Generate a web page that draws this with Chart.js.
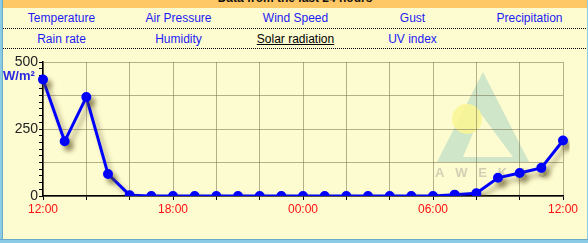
<!DOCTYPE html>
<html>
<head>
<meta charset="utf-8">
<script src="https://cdn.jsdelivr.net/npm/chart.js@4/dist/chart.umd.min.js"></script>
<style>
  html, body { margin: 0; padding: 0; }
  body {
    width: 588px; height: 243px; overflow: hidden; position: relative;
    background: #fdfbd0; font-family: Arial, "Liberation Sans", sans-serif;
  }
  #frameL { position: absolute; left: 0; top: 0; width: 2px; height: 243px; background: #8ccbe6; border-right: 1px solid #6aa9c8; }
  #frameR { position: absolute; right: 0; top: 0; width: 1px; height: 243px; background: #8ccbe6; }
  #frameB { position: absolute; left: 0; top: 239px; width: 588px; height: 4px; background: #8ccbe6; border-top: 1px solid #6aa9c8; }
  #head {
    position: absolute; left: 3px; top: 0; width: 584px; height: 8px; background: #fdc865;
    overflow: hidden;
  }
  #head span {
    position: absolute; left: 0; width: 584px; top: -9px; text-align: center;
    font-weight: bold; font-size: 12px; line-height: 14px; color: #111;
  }
  .row { position: absolute; left: 3px; width: 585px; height: 20px; border-bottom: 1px dotted #000; }
  .row a { position: absolute; width: 117px; text-align: center; font-size: 12px; line-height: 14px; color: #1c1cf4; text-decoration: none; }
  .row a.on { color: #000; text-decoration: underline; }
  #r1 { top: 8px; }
  #r2 { top: 28px; }
  #unit { position: absolute; left: 3px; top: 68px; font-size: 13px; font-weight: bold; color: #2a2ae0; }
  #wrap { position: absolute; left: 3px; top: 52px; width: 582px; height: 180px; }
</style>
</head>
<body>
<div id="head"><span>Data from the last 24 hours</span></div>
<div class="row" id="r1">
  <a style="left:0;top:3px">Temperature</a>
  <a style="left:117px;top:3px">Air Pressure</a>
  <a style="left:234px;top:3px">Wind Speed</a>
  <a style="left:351px;top:3px">Gust</a>
  <a style="left:468px;top:3px">Precipitation</a>
</div>
<div class="row" id="r2">
  <a style="left:0;top:4px">Rain rate</a>
  <a style="left:117px;top:4px">Humidity</a>
  <a class="on" style="left:234px;top:4px">Solar radiation</a>
  <a style="left:351px;top:4px">UV index</a>
</div>
<div id="wrap"><canvas id="chart"></canvas></div>
<div id="unit">W/m²</div>
<div id="frameL"></div>
<div id="frameR"></div>
<div id="frameB"></div>
<script>
// horas das últimas 24h, uma por ponto
const horas = ['12:00', '13:00', '14:00', '15:00', '16:00', '17:00', '18:00', '19:00', '20:00',
  '21:00', '22:00', '23:00', '00:00', '01:00', '02:00', '03:00', '04:00', '05:00', '06:00',
  '07:00', '08:00', '09:00', '10:00', '11:00', '12:00'];

// radiação solar em W/m²
const radiacao = [435, 204, 369, 82, 3, 0, 0, 0, 0, 0, 0, 0, 0, 0, 0, 0, 0, 0, 0,
  5, 10, 68, 86, 105, 207];

const yMin = 0;
const yMax = 500;
const yTicksLabel = [0, 250, 500];

const corGrade = 'rgba(120, 115, 80, 0.55)';

// sombra da linha
const sombra = {
  id: 'sombra',
  beforeDatasetDraw(chart) {
    const ctx = chart.ctx;
    ctx.save();
    ctx.shadowColor = 'rgba(90, 80, 30, 0.45)';
    ctx.shadowBlur = 5;
    ctx.shadowOffsetX = 4;
    ctx.shadowOffsetY = 5;
  },
  afterDatasetDraw(chart) {
    chart.ctx.restore();
  }
};

// marca d'água AWEKAS atrás da grade
const logo = {
  id: 'logo',
  beforeDraw(chart) {
    const ctx = chart.ctx;
    const a = chart.chartArea;
    const cx = a.right - 80, top = a.top + 10;
    ctx.save();
    ctx.fillStyle = 'rgba(150, 205, 190, 0.45)';
    ctx.beginPath();
    ctx.moveTo(cx, top);
    ctx.lineTo(cx + 46, top + 90);
    ctx.lineTo(cx - 46, top + 90);
    ctx.closePath();
    ctx.fill();
    ctx.fillStyle = '#fdfbd0';
    ctx.beginPath();
    ctx.moveTo(cx - 2, top + 42);
    ctx.lineTo(cx + 30, top + 85);
    ctx.lineTo(cx - 20, top + 85);
    ctx.closePath();
    ctx.fill();
    ctx.fillStyle = 'rgba(250, 245, 150, 0.9)';
    ctx.beginPath();
    ctx.arc(cx - 16, top + 47, 15, 0, Math.PI * 2);
    ctx.fill();
    ctx.fillStyle = 'rgba(180, 180, 160, 0.6)';
    ctx.font = 'bold 13px Arial';
    ctx.textAlign = 'center';
    ctx.fillText('A   W   E   K   A   S', cx + 8, top + 105);
    ctx.restore();
  }
};

new Chart(document.getElementById('chart'), {
  type: 'line',
  data: {
    labels: horas,
    datasets: [{
      data: radiacao,
      borderColor: '#0000ff',
      backgroundColor: '#0000ff',
      borderWidth: 3,
      pointRadius: 3.5,
      pointHoverRadius: 3.5,
      tension: 0
    }]
  },
  options: {
    responsive: true,
    maintainAspectRatio: false,
    animation: false,
    layout: { padding: { left: 0, right: 22, top: 10, bottom: 16 } },
    plugins: { legend: { display: false }, tooltip: { enabled: false } },
    scales: {
      x: {
        offset: false,
        afterFit: s => { s.height = 20; },
        grid: {
          color: c => (c.index % 2 === 0 ? corGrade : 'transparent'),
          tickColor: c => (c.index % 2 === 0 ? '#000' : 'transparent'),
          tickLength: 4
        },
        border: { color: '#000', width: 1.5 },
        ticks: {
          autoSkip: false,
          maxRotation: 0,
          padding: 2,
          color: '#ff1010',
          font: { size: 12, family: 'Arial' },
          callback: (v, i) => (i % 6 === 0 ? horas[i] : '')
        }
      },
      y: {
        min: yMin,
        max: yMax,
        afterFit: s => { s.width = 40; },
        afterBuildTicks: s => {
          const t = [];
          for (let v = yMin; v <= yMax; v += 25) t.push({ value: v });
          s.ticks = t;
        },
        grid: {
          color: c => (c.tick.value % 125 === 0 ? corGrade : 'transparent'),
          tickColor: '#000',
          tickLength: 4
        },
        border: { color: '#000', width: 1.5 },
        ticks: {
          autoSkip: false,
          padding: 1,
          color: '#222',
          font: { size: 14, family: 'Arial' },
          callback: v => (yTicksLabel.includes(v) ? String(v) : '')
        }
      }
    }
  },
  plugins: [logo, sombra]
});
</script>
</body>
</html>
